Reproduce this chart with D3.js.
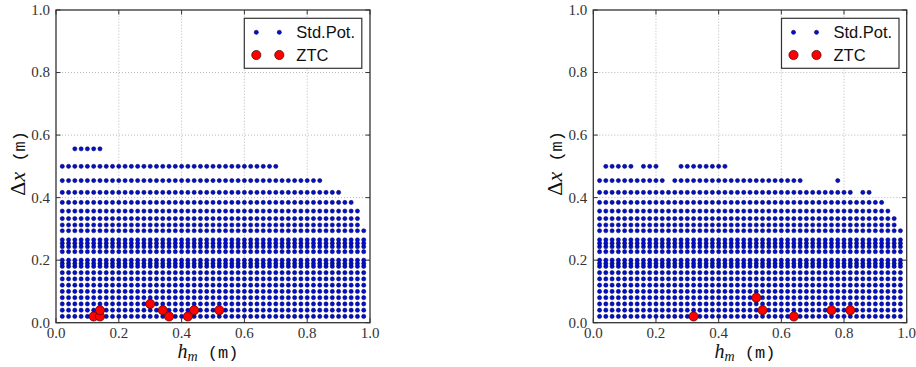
<!DOCTYPE html>
<html><head><meta charset="utf-8">
<script src="https://cdn.jsdelivr.net/npm/d3@7"></script>
<style>body{margin:0;background:#fff}svg{display:block}</style>
</head><body>
<svg id="c" width="916" height="367"></svg>
<script>
// ---- data ----
const hmGrid = [0.02,0.04,0.06,0.08,0.10,0.12,0.14,0.16,0.18,0.20,0.22,0.24,0.26,0.28,0.30,0.32,0.34,0.36,0.38,0.40,0.42,0.44,0.46,0.48,0.50,0.52,0.54,0.56,0.58,0.60,0.62,0.64,0.66,0.68,0.70,0.72,0.74,0.76,0.78,0.80,0.82,0.84,0.86,0.88,0.90,0.92,0.94,0.96,0.98];
const lowDx = [0.02,0.04,0.06,0.08,0.10,0.12,0.14,0.16,0.18,0.189,0.20,0.227,0.243,0.254,0.265];
// rows: [dx, [hm ranges]]
const leftRows = [
  [0.556,[[0.06,0.14]]],
  [0.500,[[0.02,0.70]]],
  [0.4545,[[0.02,0.84]]],
  [0.4167,[[0.02,0.90]]],
  [0.3846,[[0.02,0.94]]],
  [0.357,[[0.02,0.96]]],
  [0.333,[[0.02,0.96]]],
  [0.3125,[[0.02,0.96]]],
  [0.294,[[0.02,0.98]]]
];
const rightRows = [
  [0.500,[[0.04,0.12],[0.16,0.20],[0.28,0.42]]],
  [0.4545,[[0.02,0.22],[0.26,0.66],[0.78,0.78]]],
  [0.4167,[[0.02,0.82],[0.86,0.88]]],
  [0.3846,[[0.02,0.92]]],
  [0.357,[[0.02,0.94]]],
  [0.333,[[0.02,0.96]]],
  [0.3125,[[0.02,0.96]]],
  [0.294,[[0.02,0.98]]]
];
const leftZTC_h  = [0.12,0.14,0.14,0.30,0.34,0.36,0.42,0.44,0.52];
const leftZTC_dx = [0.02,0.02,0.04,0.06,0.04,0.02,0.02,0.04,0.04];
const rightZTC_h  = [0.32,0.52,0.54,0.64,0.76,0.82];
const rightZTC_dx = [0.02,0.08,0.04,0.02,0.04,0.04];
const ticks = [0,0.2,0.4,0.6,0.8,1.0];
const tickLabels = ["0.0","0.2","0.4","0.6","0.8","1.0"];
const legendLabels = ["Std.Pot.","ZTC"];

function expand(rows){
  const pts=[];
  const all = rows.concat(lowDx.map(d=>[d,[[0.02,0.98]]]));
  all.forEach(([dx,ranges])=>{
    ranges.forEach(([a,b])=>{
      hmGrid.forEach(h=>{ if(h>=a-1e-9 && h<=b+1e-9) pts.push([h,dx]); });
    });
  });
  return pts;
}

const svg = d3.select("#c");
function panel(x0,x1,rows,zh,zdx,legX0,labX){
  const x = d3.scaleLinear([0,1],[x0,x1]);
  const y = d3.scaleLinear([0,1],[322.7,10]);
  const g = svg.append("g");
  // grid
  g.selectAll(".gx").data(ticks.slice(1,-1)).join("line")
    .attr("x1",d=>x(d)).attr("x2",d=>x(d)).attr("y1",y(0)).attr("y2",y(1))
    .attr("stroke","#b8b8b8").attr("stroke-width",1).attr("stroke-dasharray","1,2");
  g.selectAll(".gy").data(ticks.slice(1,-1)).join("line")
    .attr("y1",d=>y(d)).attr("y2",d=>y(d)).attr("x1",x(0)).attr("x2",x(1))
    .attr("stroke","#b8b8b8").attr("stroke-width",1).attr("stroke-dasharray","1,2");
  // points
  const pts = expand(rows);
  g.append("g").selectAll("circle").data(pts).join("circle")
    .attr("cx",d=>x(d[0])).attr("cy",d=>y(d[1])).attr("r",2.1)
    .attr("fill","#0010d0").attr("stroke","#00004a").attr("stroke-width",0.5);
  g.append("g").selectAll("circle").data(zh.map((h,i)=>[h,zdx[i]])).join("circle")
    .attr("cx",d=>x(d[0])).attr("cy",d=>y(d[1])).attr("r",4.6)
    .attr("fill","#ff0000").attr("stroke","#400000").attr("stroke-width",0.7);
  // frame
  g.append("rect").attr("x",x0).attr("y",y(1)).attr("width",x1-x0).attr("height",y(0)-y(1))
    .attr("fill","none").attr("stroke","#333").attr("stroke-width",1.3);
  // ticks inward on all sides
  const tl=4.5;
  ticks.forEach(t=>{
    g.append("line").attr("x1",x(t)).attr("x2",x(t)).attr("y1",y(0)).attr("y2",y(0)-tl).attr("stroke","#333");
    g.append("line").attr("x1",x(t)).attr("x2",x(t)).attr("y1",y(1)).attr("y2",y(1)+tl).attr("stroke","#333");
    g.append("line").attr("y1",y(t)).attr("y2",y(t)).attr("x1",x0).attr("x2",x0+tl).attr("stroke","#333");
    g.append("line").attr("y1",y(t)).attr("y2",y(t)).attr("x1",x1).attr("x2",x1-tl).attr("stroke","#333");
  });
  // tick labels
  g.selectAll(".xl").data(ticks).join("text")
    .attr("x",d=>x(d)).attr("y",337.5).attr("text-anchor","middle")
    .attr("font-family","Liberation Serif").attr("font-size",15).attr("fill","#333")
    .text((d,i)=>tickLabels[i]);
  g.selectAll(".yl").data(ticks).join("text")
    .attr("x",x0-6).attr("y",d=>y(d)).attr("dy","0.33em").attr("text-anchor","end")
    .attr("font-family","Liberation Serif").attr("font-size",15).attr("fill","#333")
    .text((d,i)=>tickLabels[i]);
  // x label
  const xl = g.append("text").attr("x",(x0+x1)/2-5).attr("y",358).attr("text-anchor","middle").attr("fill","#111");
  xl.append("tspan").attr("font-family","Liberation Serif").attr("font-style","italic").attr("font-size",20).text("h");
  xl.append("tspan").attr("font-family","Liberation Serif").attr("font-style","italic").attr("font-size",14).attr("dy",3).text("m");
  xl.append("tspan").attr("font-family","Liberation Mono").attr("font-size",17).attr("dy",-3).text("\u00a0(m)");
  // y label
  const yl = g.append("text").attr("transform",`translate(${labX},${(y(0)+y(1))/2-3}) rotate(-90)`)
    .attr("text-anchor","middle").attr("fill","#111");
  yl.append("tspan").attr("font-family","Liberation Serif").attr("font-size",22).text("\u0394");
  yl.append("tspan").attr("font-family","Liberation Serif").attr("font-style","italic").attr("font-size",22).text("x");
  yl.append("tspan").attr("font-family","Liberation Mono").attr("font-size",17).text("\u00a0(m)");
  // legend
  const lg = g.append("g");
  lg.append("rect").attr("x",legX0).attr("y",18.3).attr("width",117.5).attr("height",50)
    .attr("fill","#fff").attr("stroke","#333").attr("stroke-width",1.2);
  const mk=[legX0+12,legX0+35];
  mk.forEach(mx=>{
    lg.append("circle").attr("cx",mx).attr("cy",32.3).attr("r",2.1).attr("fill","#0010d0").attr("stroke","#00004a").attr("stroke-width",0.5);
    lg.append("circle").attr("cx",mx).attr("cy",55).attr("r",4.6).attr("fill","#ff0000").attr("stroke","#400000").attr("stroke-width",0.7);
  });
  lg.selectAll(".lt").data(legendLabels).join("text")
    .attr("x",legX0+52).attr("y",(d,i)=>[37.8,61][i])
    .attr("font-family","Liberation Sans").attr("font-size",16.5).attr("fill","#111")
    .text(d=>d);
}
panel(56,370,leftRows,leftZTC_h,leftZTC_dx,244.3,25);
panel(593.3,906.7,rightRows,rightZTC_h,rightZTC_dx,781.5,562);
</script>
</body></html>
